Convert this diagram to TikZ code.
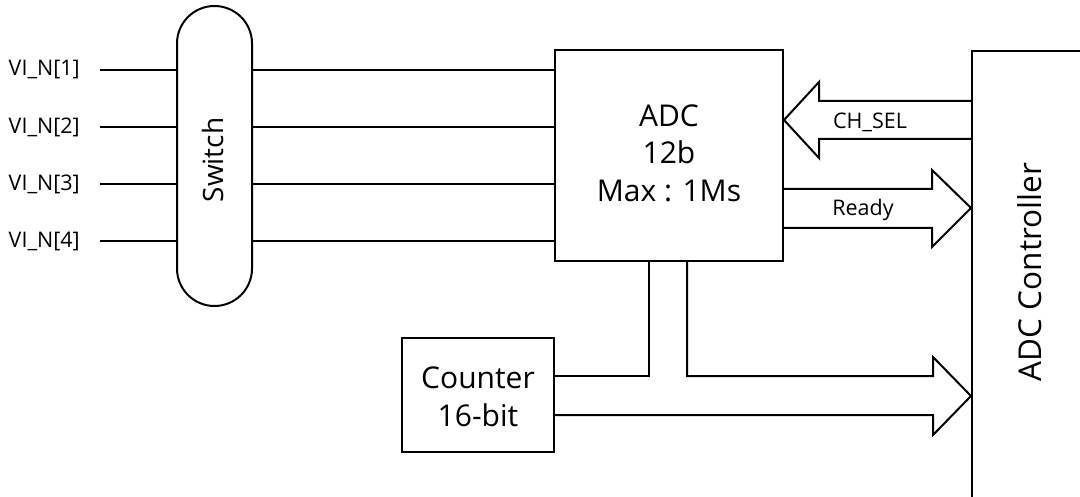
\documentclass[tikz,border=0pt]{standalone}
\usepackage{fontspec}
\setmainfont{Open Sans}
\usetikzlibrary{calc}
\tikzset{
  wire/.style={line width=2pt, line join=miter},
  thinwire/.style={line width=1.6pt},
  blockbox/.style={draw, line width=2pt, inner sep=0pt},
  bigtxt/.style={font=\fontsize{30}{37.5}\selectfont, align=center, inner sep=0pt},
  smalltxt/.style={font=\fontsize{21.5}{26}\selectfont, inner sep=0pt},
}
\begin{document}
\begin{tikzpicture}[x=1pt, y=-1pt]
\useasboundingbox (0,0) rectangle (1080,497);
\clip (0,0) rectangle (1080,497);

% Switch
\node[blockbox, minimum width=75pt, minimum height=300pt, rounded corners=37.5pt] (switch) at (214.5,156) {};
\node[rotate=90, font=\fontsize{28}{32}\selectfont, inner sep=0pt] (swtxt) at (213,160) {Switch};

% ADC
\node[blockbox, minimum width=228pt, minimum height=211pt] (adc) at (669,155.5) {};
\node[bigtxt] (adctxt) at (669,153) {ADC\\12b\\Max : 1Ms};

% Counter
\node[blockbox, minimum width=152pt, minimum height=114pt] (counter) at (478,395) {};
\node[bigtxt] (cnttxt) at (478,397) {Counter\\16-bit};

% Controller
\node[blockbox, anchor=north west, minimum width=160pt, minimum height=500pt] (ctrl) at (971,50) {};
\node[rotate=90, font=\fontsize{31.5}{36}\selectfont, inner sep=0pt] (ctrltxt) at (1030,272) {ADC Controller};

% inputs
\foreach \i/\y in {1/70,2/127,3/184,4/241}{
  \coordinate (in\i) at (100,\y);
  \node[smalltxt, anchor=east] (lab\i) at (80,\y) {VI\_N[\i]};
  \draw[wire] (in\i) -- (switch.west |- in\i);
  \draw[wire] (switch.east |- in\i) -- (adc.west |- in\i);
}

% CH_SEL arrow (to ADC)
\draw[wire] (ctrl.west |- 0,101) -- (819,101) -- (819,82) -- (adc.east |- 0,120) -- (819,158) -- (819,139) -- (ctrl.west |- 0,139);
\node[smalltxt] (chsel) at (870,122) {CH\_SEL};

% Ready arrow (to controller)
\draw[wire] (adc.east |- 0,189) -- (932,189) -- (932,170) -- (ctrl.west |- 0,208) -- (932,247) -- (932,228) -- (adc.east |- 0,228);
\node[smalltxt] (ready) at (863,210) {Ready};

% Data bus arrow (ADC + counter to controller)
\draw[wire] (adc.south -| 687,0) -- (687,376) -- (933,376) -- (933,357) -- (ctrl.west |- 0,396) -- (933,435) -- (933,415) -- (counter.east |- 0,415);
\draw[thinwire] (adc.south -| 649,0) -- (649,376) -- (counter.east |- 0,376);

\end{tikzpicture}
\end{document}
